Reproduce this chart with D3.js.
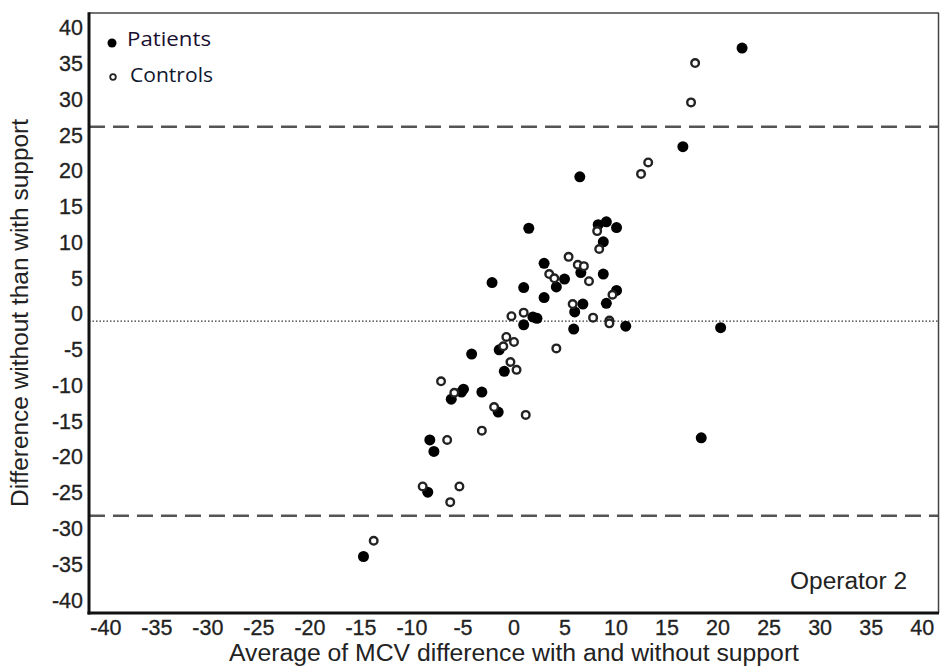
<!DOCTYPE html>
<html><head><meta charset="utf-8">
<script src="https://cdnjs.cloudflare.com/ajax/libs/d3/7.8.5/d3.min.js"></script>
<style>html,body{margin:0;padding:0;background:#fff;}svg{display:block;}</style>
</head><body>
<svg id="chart" width="940" height="667"></svg>
<script>
const xTicks = [-40,-35,-30,-25,-20,-15,-10,-5,0,5,10,15,20,25,30,35,40];
const yTicks = [40,35,30,25,20,15,10,5,0,-5,-10,-15,-20,-25,-30,-35,-40];
const patientsX = [22.4,16.6,6.5,1.5,8.3,9.1,10.1,8.8,3.0,-2.1,1.0,4.2,5.0,6.6,8.8,3.0,10.1,9.1,6.8,6.0,11.0,5.9,1.9,2.3,1.0,-1.4,-4.1,-0.9,-4.9,-5.1,-6.1,-3.1,-1.5,-8.2,-7.8,-8.4,-14.7,20.3,18.4];
const patientsY = [37.2,23.4,19.2,12.0,12.5,12.9,12.1,10.1,7.1,4.4,3.7,3.8,4.9,5.8,5.6,2.3,3.3,1.5,1.4,0.3,-1.7,-2.1,-0.4,-0.6,-1.5,-5.0,-5.6,-8.0,-10.5,-10.9,-11.9,-10.9,-13.7,-17.6,-19.2,-24.9,-33.9,-1.9,-17.3];
const controlsX = [17.8,17.4,13.2,12.5,8.2,8.4,5.4,6.3,6.9,3.5,4.0,7.4,9.7,5.8,7.8,9.4,9.4,4.2,-0.2,1.0,-0.7,0.05,-1.0,-0.3,0.3,-7.1,-5.8,-1.9,1.2,-3.1,-6.5,-8.9,-5.3,-6.2,-13.7];
const controlsY = [35.1,29.6,21.2,19.6,11.6,9.1,8.0,6.9,6.7,5.6,5.0,4.6,2.7,1.4,-0.5,-0.9,-1.3,-4.8,-0.3,0.2,-3.2,-3.9,-4.5,-6.7,-7.8,-9.4,-11.0,-13.0,-14.1,-16.3,-17.6,-24.1,-24.1,-26.3,-31.7];
const meanDiff = -1.0;
const upperLoA = 26.2;
const lowerLoA = -28.2;
const legendLabels = ["Patients","Controls"];
const xTitle = "Average of MCV difference with and without support";
const yTitle = "Difference without than with support";
const panelLabel = "Operator 2";

const FONT = "Liberation Sans, Arial, sans-serif";
const svg = d3.select("#chart");
const x = d3.scaleLinear().domain([-41.6, 41.7]).range([89, 939]);
const y = d3.scaleLinear().domain([-41.8, 42.1]).range([613, 13]);
const [x0, x1] = x.range();
const [y0, y1] = y.range();

// reference lines
svg.append("line").attr("x1", x0).attr("x2", x1).attr("y1", y(upperLoA)).attr("y2", y(upperLoA))
  .attr("stroke", "#555").attr("stroke-width", 2.5).attr("stroke-dasharray", "16,8");
svg.append("line").attr("x1", x0).attr("x2", x1).attr("y1", y(lowerLoA)).attr("y2", y(lowerLoA))
  .attr("stroke", "#555").attr("stroke-width", 2.5).attr("stroke-dasharray", "16,8");
svg.append("line").attr("x1", x0).attr("x2", x1).attr("y1", y(meanDiff)).attr("y2", y(meanDiff))
  .attr("stroke", "#333").attr("stroke-width", 1.3).attr("stroke-dasharray", "1.5,2");

// points
const pts = patientsX.map((v, i) => ({x: v, y: patientsY[i]}));
const ctl = controlsX.map((v, i) => ({x: v, y: controlsY[i]}));
svg.append("g").selectAll("circle").data(pts).join("circle")
  .attr("cx", d => x(d.x)).attr("cy", d => y(d.y)).attr("r", 5.5).attr("fill", "#000");
svg.append("g").selectAll("circle").data(ctl).join("circle")
  .attr("cx", d => x(d.x)).attr("cy", d => y(d.y)).attr("r", 3.8)
  .attr("fill", "#fff").attr("stroke", "#222").attr("stroke-width", 2.4);

// frame
svg.append("line").attr("x1", x0).attr("x2", x1).attr("y1", y1).attr("y2", y1).attr("stroke", "#444").attr("stroke-width", 1.5);
svg.append("line").attr("x1", x1 - 0.5).attr("x2", x1 - 0.5).attr("y1", y1).attr("y2", y0).attr("stroke", "#444").attr("stroke-width", 1.5);
svg.append("line").attr("x1", x0).attr("x2", x0).attr("y1", y1 - 0.75).attr("y2", y0 + 1.5).attr("stroke", "#111").attr("stroke-width", 3);
svg.append("line").attr("x1", x0 - 1.5).attr("x2", x1).attr("y1", y0).attr("y2", y0).attr("stroke", "#111").attr("stroke-width", 3);

// axes (labels only)
const fmt = d => String(d);
const xAxis = d3.axisBottom(x).tickValues(xTicks).tickSize(0).tickPadding(7).tickFormat(fmt);
const gx = svg.append("g").attr("transform", `translate(0,${y0})`).call(xAxis);
gx.select(".domain").remove();
gx.selectAll("text").attr("font-family", FONT).attr("font-size", 21.5).attr("fill", "#222")
  .attr("stroke", "#222").attr("stroke-width", 0.3);

const yAxis = d3.axisLeft(y).tickValues(yTicks).tickSize(0).tickPadding(6).tickFormat(fmt);
const gy = svg.append("g").attr("transform", `translate(${x0},0)`).call(yAxis);
gy.select(".domain").remove();
gy.selectAll("text").attr("font-family", FONT).attr("font-size", 21.5).attr("fill", "#222")
  .attr("stroke", "#222").attr("stroke-width", 0.3);

// titles
svg.append("text").attr("x", 514).attr("y", 661).attr("text-anchor", "middle")
  .attr("font-family", FONT).attr("font-size", 23).attr("fill", "#222")
  .attr("textLength", 570).attr("lengthAdjust", "spacingAndGlyphs").text(xTitle);
svg.append("text").attr("transform", `translate(28,313) rotate(-90)`).attr("text-anchor", "middle")
  .attr("font-family", FONT).attr("font-size", 23).attr("fill", "#222")
  .attr("textLength", 388).attr("lengthAdjust", "spacingAndGlyphs").text(yTitle);

// panel label
svg.append("text").attr("x", 907).attr("y", 589).attr("text-anchor", "end")
  .attr("font-family", FONT).attr("font-size", 23.5).attr("fill", "#222")
  .attr("textLength", 117).attr("lengthAdjust", "spacingAndGlyphs").text(panelLabel);

// legend
const lg = svg.append("g");
lg.append("circle").attr("cx", 112).attr("cy", 43).attr("r", 4.5).attr("fill", "#000");
lg.append("text").attr("x", 127).attr("y", 46).attr("font-family", "Open Sans, Noto Sans, sans-serif").attr("font-size", 20).attr("fill", "#1a1030")
  .attr("textLength", 84).attr("lengthAdjust", "spacingAndGlyphs").text(legendLabels[0]);
lg.append("circle").attr("cx", 113).attr("cy", 77).attr("r", 2.8).attr("fill", "#fff").attr("stroke", "#222").attr("stroke-width", 1.8);
lg.append("text").attr("x", 130).attr("y", 82).attr("font-family", "Open Sans, Noto Sans, sans-serif").attr("font-size", 20).attr("fill", "#101830")
  .attr("textLength", 83).attr("lengthAdjust", "spacingAndGlyphs").text(legendLabels[1]);
</script>
</body></html>
